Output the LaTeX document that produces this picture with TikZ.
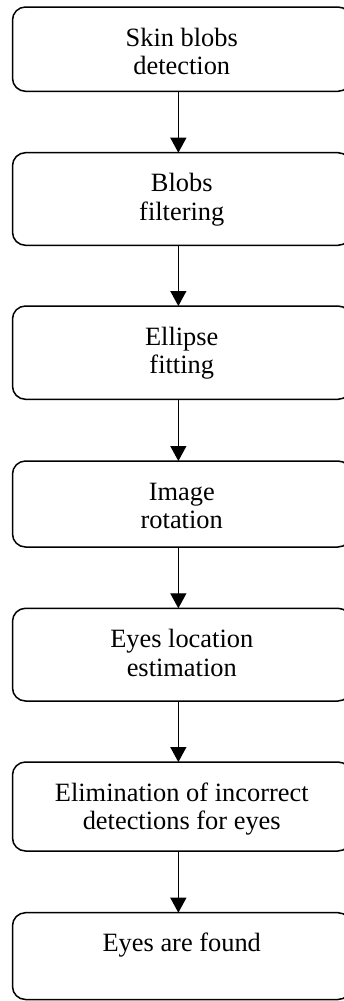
\documentclass[tikz,border=0pt]{standalone}
\usepackage{fontspec}
\setmainfont{Liberation Serif}
\usetikzlibrary{arrows.meta}
\tikzset{
  flowbox/.style={draw=black, line width=1.5pt, rounded corners=13pt, minimum width=338.5pt, outer sep=0pt, inner sep=0pt, anchor=north},
  flowtxt/.style={anchor=north, inner sep=0pt, align=center, font=\fontsize{26.4}{28.5}\selectfont},
  flowarr/.style={line width=1.3pt, -{Triangle[width=16pt,length=15pt]}}
}
\begin{document}
\begin{tikzpicture}[x=1pt,y=-1pt]
\useasboundingbox (0,0) rectangle (344,1001);
\node[flowbox, minimum height=84.3pt] (b1) at (181.75,7) {};
\node[flowbox, minimum height=92.6pt] (b2) at (181.75,152.7) {};
\node[flowbox, minimum height=93.3pt] (b3) at (181.75,306) {};
\node[flowbox, minimum height=86pt] (b4) at (181.75,461) {};
\node[flowbox, minimum height=92.7pt] (b5) at (181.75,608.3) {};
\node[flowbox, minimum height=89pt] (b6) at (181.75,762) {};
\node[flowbox, minimum height=86.8pt] (b7) at (181.75,912.7) {};
\node[flowtxt] (t1) at ([yshift=-19pt]b1.north) {\rule{0pt}{20pt}Skin blobs\\detection};
\node[flowtxt] (t2) at ([yshift=-19pt]b2.north) {\rule{0pt}{20pt}Blobs\\filtering};
\node[flowtxt] (t3) at ([yshift=-19pt]b3.north) {\rule{0pt}{20pt}Ellipse\\fitting};
\node[flowtxt] (t4) at ([yshift=-19pt]b4.north) {\rule{0pt}{20pt}Image\\rotation};
\node[flowtxt] (t5) at ([yshift=-19pt]b5.north) {\rule{0pt}{20pt}Eyes location\\estimation};
\node[flowtxt] (t6) at ([yshift=-19pt]b6.north) {\rule{0pt}{20pt}Elimination of incorrect\\detections for eyes};
\node[flowtxt] (t7) at ([yshift=-19pt]b7.north) {\rule{0pt}{20pt}Eyes are found};
\foreach \a/\b in {b1/b2,b2/b3,b3/b4,b4/b5,b5/b6,b6/b7}
  \draw[flowarr] ([xshift=-3.4pt]\a.south) -- ([xshift=-3.4pt]\b.north);
\end{tikzpicture}
\end{document}
